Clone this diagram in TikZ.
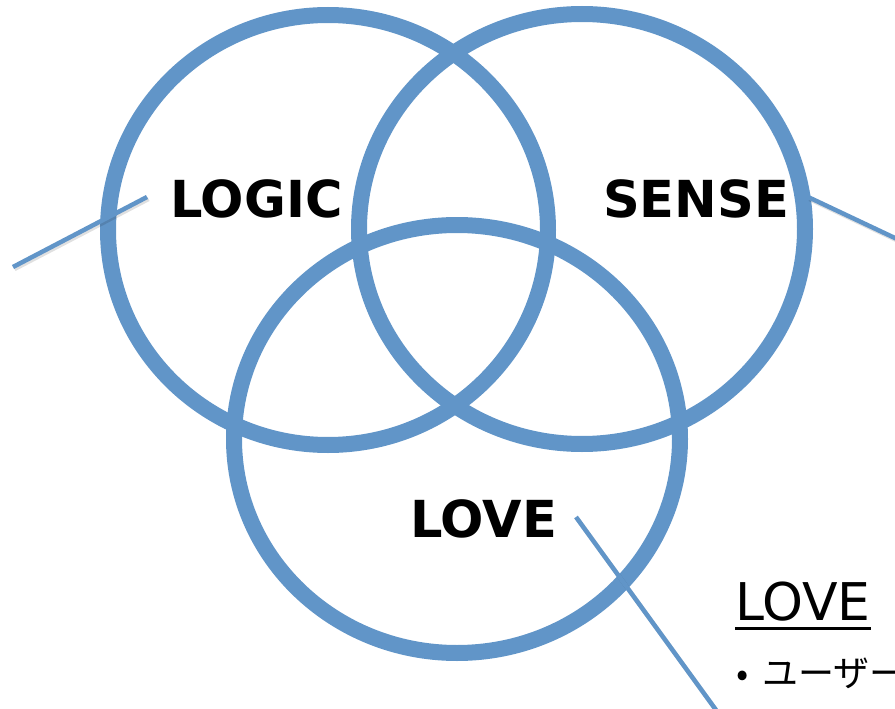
\documentclass[tikz,border=0pt]{standalone}
\usepackage{fontspec}
\usetikzlibrary{shapes.geometric}
\setmainfont{DejaVu Sans}
\newfontfamily\jpfont{Noto Sans CJK JP}
\definecolor{ringblue}{RGB}{97,149,200}
\begin{document}
\begin{tikzpicture}[x=1pt,y=-1pt,
  ring/.style={draw=ringblue,line width=16pt,ellipse,inner sep=0pt},
  leader/.style={draw=ringblue,line width=4.5pt},
  leadershadow/.style={draw=black,opacity=0.12,line width=4.5pt},
  biglabel/.style={inner sep=0pt,anchor=base west,font=\fontsize{51}{51}\selectfont\bfseries},
  sidelabel/.style={inner sep=0pt,anchor=base west,font=\fontsize{52}{52}\selectfont},
  bulletlabel/.style={inner sep=0pt,anchor=base west,font=\fontsize{36}{36}\selectfont\jpfont}]
\useasboundingbox (0,0) rectangle (895,709);
\clip (0,0) rectangle (895,709);
% circles
\node[ring,minimum width=440pt,minimum height=430pt] (logicc) at (328,230) {};
\node[ring,minimum width=446pt,minimum height=430pt] (sensec) at (582,229) {};
\node[ring,minimum width=446pt,minimum height=428pt] (lovec) at (457,439) {};
% labels
\node[biglabel] (logic) at (170,217) {LOGIC};
\node[biglabel] (sense) at (603,217) {SENSE};
\node[biglabel] (love) at (410,537) {LOVE};
% side text
\node[sidelabel] (lovehead) at (735,620) {LOVE};
\draw[line width=3pt] (lovehead.base west) ++(0,8) coordinate (ul1) -- (lovehead.base east |- ul1);
\node[bulletlabel] (bullet) at (736,686) {\textbullet\hspace{14pt}ユーザー};
% leader lines
\coordinate (l1a) at (13,267);
\coordinate (l1b) at (147,197);
\coordinate (l2a) at (808,197);
\coordinate (l2b) at (897,239);
\coordinate (l3a) at (576,517);
\coordinate (l3b) at (716,710);
\draw[leadershadow] ([shift={(1.5,2)}]l1a) -- ([shift={(1.5,2)}]l1b);
\draw[leadershadow] ([shift={(1.5,2)}]l2a) -- ([shift={(1.5,2)}]l2b);
\draw[leadershadow] ([shift={(1.5,2)}]l3a) -- ([shift={(1.5,2)}]l3b);
\draw[leader] (l1a) -- (l1b);
\draw[leader] (l2a) -- (l2b);
\draw[leader] (l3a) -- (l3b);
\end{tikzpicture}
\end{document}
